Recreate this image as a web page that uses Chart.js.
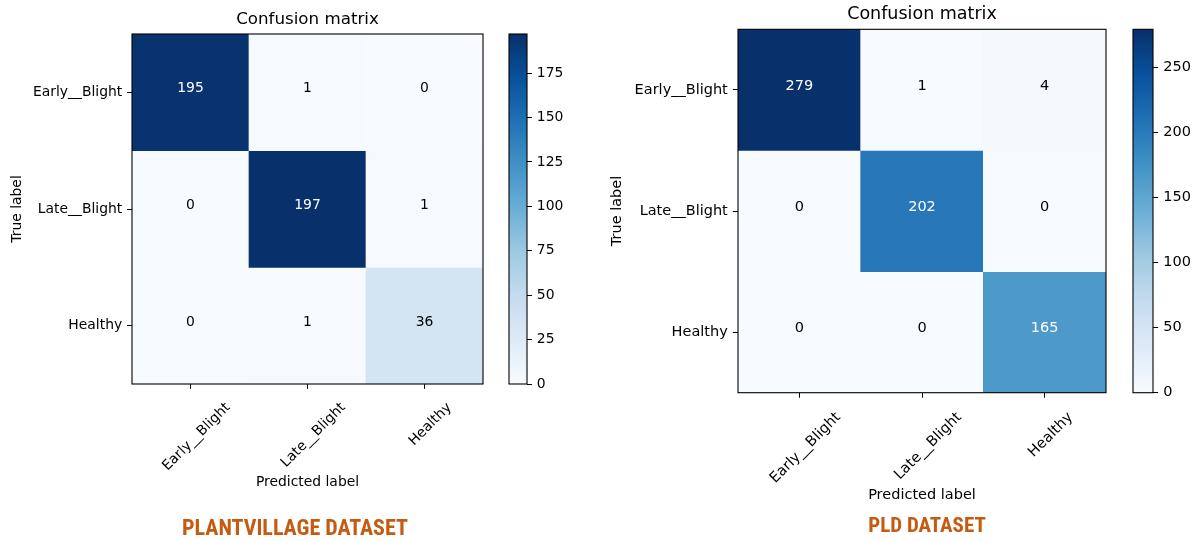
<!DOCTYPE html>
<html><head><meta charset="utf-8">
<script src="https://cdn.jsdelivr.net/npm/chart.js@4/dist/chart.umd.min.js"></script>
<style>
html,body{margin:0;padding:0;background:#fff;}
#wrap{position:relative;width:1197px;height:541px;overflow:hidden;background:#fff;}
canvas{position:absolute;}
.cap{position:absolute;width:300px;font-family:"Liberation Sans Narrow","Roboto Condensed","Open Sans",sans-serif;font-weight:bold;color:#c55a11;white-space:nowrap;line-height:1;text-align:center;}
</style></head><body>
<div id="wrap">
<canvas id="m1" width="490" height="541" style="left:0px;top:0px"></canvas>
<canvas id="c1" width="80" height="541" style="left:490px;top:0px"></canvas>
<canvas id="m2" width="513" height="541" style="left:600px;top:0px"></canvas>
<canvas id="c2" width="84" height="541" style="left:1113px;top:0px"></canvas>
<div class="cap" id="cap1" style="left:145px;top:517px;font-size:22px">PLANTVILLAGE DATASET</div>
<div class="cap" id="cap2" style="left:777px;top:515px;font-size:21px">PLD DATASET</div>
</div>
<script>
// ---------------- data ----------------
const classLabels = ['Early__Blight', 'Late__Blight', 'Healthy'];
const plantVillageMatrix = [
  [195, 1, 0],
  [0, 197, 1],
  [0, 1, 36]
];
const pldMatrix = [
  [279, 1, 4],
  [0, 202, 0],
  [0, 0, 165]
];
const plantVillageCbarTicks = [0, 25, 50, 75, 100, 125, 150, 175];
const pldCbarTicks = [0, 50, 100, 150, 200, 250];
const chartTitle = 'Confusion matrix';
const xAxisTitle = 'Predicted label';
const yAxisTitle = 'True label';

// ---------------- colormap (matplotlib Blues) ----------------
const BLUES = ['#f7fbff','#deebf7','#c6dbef','#9ecae1','#6baed6','#4292c6','#2171b5','#08519c','#08306b'];
function hex2rgb(h){return [parseInt(h.substr(1,2),16),parseInt(h.substr(3,2),16),parseInt(h.substr(5,2),16)];}
function blues(t){
  t = Math.max(0, Math.min(1, t));
  const p = t * 8; const i = Math.min(7, Math.floor(p)); const f = p - i;
  const a = hex2rgb(BLUES[i]), b = hex2rgb(BLUES[i+1]);
  const c = a.map((v,k)=>Math.round(v + (b[k]-v)*f));
  return `rgb(${c[0]},${c[1]},${c[2]})`;
}

const FONT = '"DejaVu Sans", sans-serif';
const H = 541;

function boxPlugin(lw){
  return {id:'axbox', afterDraw(chart){
    const a = chart.chartArea, ctx = chart.ctx;
    ctx.save(); ctx.strokeStyle = '#000'; ctx.lineWidth = lw;
    ctx.strokeRect(a.left, a.top, a.right - a.left, a.bottom - a.top);
    ctx.restore();
  }};
}

function makeMatrix(id, P, matrix){
  const n = classLabels.length;
  const vmax = Math.max(...matrix.flat());
  const datasets = matrix.map((row, i) => ({
    data: row.map(() => [i, i + 1]),
    backgroundColor: row.map(v => blues(v / vmax)),
    borderWidth: 0, grouped: false, barPercentage: 1, categoryPercentage: 1
  }));
  const font = {family: FONT, size: P.fs, weight: 'normal', lineHeight: 1.2};
  const cellText = {id:'cellText', afterDatasetsDraw(chart){
    const ctx = chart.ctx, xs = chart.scales.x, ys = chart.scales.y;
    ctx.save();
    ctx.font = `${P.fs}px ${FONT}`; ctx.textAlign = 'center'; ctx.textBaseline = 'alphabetic';
    matrix.forEach((row, i) => row.forEach((v, j) => {
      ctx.fillStyle = v > vmax / 2 ? '#ffffff' : '#000000';
      ctx.fillText(String(v), xs.getPixelForValue(j), ys.getPixelForValue(i + 0.5));
    }));
    ctx.restore();
  }};
  const xLabelCenter = {id:'xLabelCenter', beforeDraw(chart){
    const s = chart.scales.x, ctx = chart.ctx;
    const items = s.getLabelItems();
    items.forEach((it, i) => {
      const o = it.options || it;
      ctx.save(); ctx.font = it.font.string; const w = ctx.measureText(it.label).width; ctx.restore();
      const x = s.getPixelForTick(i) + 0.3536 * w;
      const y = chart.chartArea.bottom + P.tick + P.pad + 0.3536 * 1.164 * P.fs;
      o.translation = [x, y];
    });
  }};
  return new Chart(document.getElementById(id), {
    type: 'bar',
    data: {labels: classLabels, datasets},
    options: {
      responsive: false, animation: false, devicePixelRatio: 1,
      layout: {padding: {left: 0, right: P.padRight, top: 0, bottom: P.padBottom}},
      plugins: {
        legend: {display: false}, tooltip: {enabled: false},
        title: {display: true, text: chartTitle, fullSize: false, color: '#000',
          font: {family: FONT, size: P.titleFs, weight: 'normal', lineHeight: 1.2},
          padding: {top: P.titleTop, bottom: P.titleBottom}}
      },
      scales: {
        x: {type: 'category', offset: true, position: 'bottom',
          grid: {display: true, drawOnChartArea: false, drawTicks: true, tickLength: P.tick, color: '#000', tickColor: '#000', tickWidth: 1, offset: false},
          border: {display: false},
          ticks: {autoSkip: false, maxRotation: 45, minRotation: 45, padding: P.pad, color: '#000', font},
          title: {display: true, text: xAxisTitle, color: '#000', font, padding: {top: 0, bottom: P.xTitleBottom}},
          afterFit: s => { s.height = P.xAxisH; }
        },
        y: {type: 'linear', min: 0, max: n, reverse: true,
          afterBuildTicks: s => { s.ticks = classLabels.map((_, i) => ({value: i + 0.5})); },
          ticks: {autoSkip: false, padding: P.pad, color: '#000', font, callback: v => classLabels[Math.floor(v)]},
          grid: {display: true, drawOnChartArea: false, drawTicks: true, tickLength: P.tick, color: '#000', tickColor: '#000', tickWidth: 1},
          border: {display: false},
          title: {display: true, text: yAxisTitle, color: '#000', font, padding: {top: P.yTitleTop, bottom: 0}},
          afterFit: s => { s.width = P.yAxisW; }
        }
      }
    },
    plugins: [xLabelCenter, cellText, boxPlugin(1.1)]
  });
}

function makeColorbar(id, P, matrix, tickVals){
  const vmax = Math.max(...matrix.flat());
  return new Chart(document.getElementById(id), {
    type: 'bar',
    data: {labels: [''], datasets: [{
      data: [vmax], borderWidth: 0, barPercentage: 1, categoryPercentage: 1,
      backgroundColor: c => {
        const a = c.chart.chartArea; if (!a) return BLUES[8];
        const g = c.chart.ctx.createLinearGradient(0, a.bottom, 0, a.top);
        BLUES.forEach((col, k) => g.addColorStop(k / 8, col));
        return g;
      }
    }]},
    options: {
      responsive: false, animation: false, devicePixelRatio: 1,
      layout: {padding: {left: P.cbPadL, right: 0, top: P.top, bottom: H - P.bottom}},
      plugins: {legend: {display: false}, tooltip: {enabled: false}},
      scales: {
        x: {display: false},
        y: {position: 'right', min: 0, max: vmax,
          afterBuildTicks: s => { s.ticks = tickVals.map(v => ({value: v})); },
          ticks: {padding: P.pad, color: '#000', font: {family: FONT, size: P.fs}},
          grid: {display: true, drawOnChartArea: false, drawTicks: true, tickLength: P.tick, color: '#000', tickColor: '#000', tickWidth: 1},
          border: {display: false},
          afterFit: s => { s.width = P.cbAxisW; }
        }
      }
    },
    plugins: [boxPlugin(1.1)]
  });
}

// ---------------- layout (positions only) ----------------
const P1 = {fs: 13.9, titleFs: 16.7, tick: 4.9, pad: 4.9,
  padRight: 7, padBottom: H - 384 - 110, xAxisH: 110, yAxisW: 132,
  titleTop: 9.7, titleBottom: 34 - 20.04 - 9.7, xTitleBottom: 3.7, yTitleTop: 9.2,
  top: 34, bottom: 384, cbPadL: 19, cbAxisW: 43};
const P2 = {fs: 14.5, titleFs: 17.5, tick: 5.1, pad: 5.1,
  padRight: 7, padBottom: H - 392.7 - 115, xAxisH: 115, yAxisW: 138,
  titleTop: 3.8, titleBottom: 29.3 - 21 - 3.8, xTitleBottom: 4.0, yTitleTop: 8.8,
  top: 29.3, bottom: 392.7, cbPadL: 20, cbAxisW: 44};

makeMatrix('m1', P1, plantVillageMatrix);
makeColorbar('c1', P1, plantVillageMatrix, plantVillageCbarTicks);
makeMatrix('m2', P2, pldMatrix);
makeColorbar('c2', P2, pldMatrix, pldCbarTicks);
</script>
</body></html>
